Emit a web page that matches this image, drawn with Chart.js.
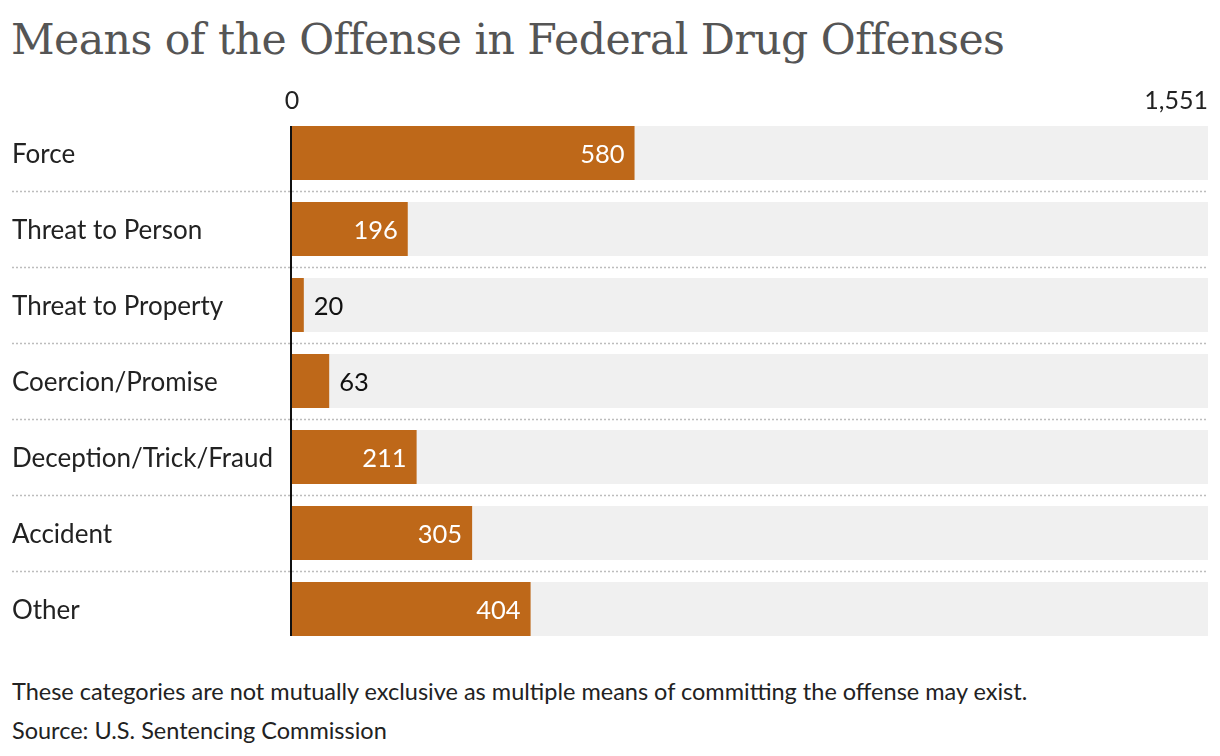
<!DOCTYPE html>
<html>
<head>
<meta charset="utf-8">
<script src="https://cdn.jsdelivr.net/npm/chart.js@4/dist/chart.umd.min.js"></script>
<style>
  html, body { margin: 0; padding: 0; background: #fff; }
  body { width: 1220px; height: 756px; position: relative; overflow: hidden; }
  #title { position: absolute; left: 11px; top: 14px; font-family: "DejaVu Serif", serif; font-size: 42.6px; color: #555; white-space: nowrap; letter-spacing: -0.55px; }
  .foot { position: absolute; left: 12px; font-family: Lato, sans-serif; font-size: 23.5px; color: #222; white-space: nowrap; }
  #wrap { position: absolute; left: 0; top: 0; width: 1220px; height: 756px; }
</style>
</head>
<body>
<div id="title">Means of the Offense in Federal Drug Offenses</div>
<div class="foot" style="top:677px">These categories are not mutually exclusive as multiple means of committing the offense may exist.</div>
<div class="foot" style="top:716px">Source: U.S. Sentencing Commission</div>
<div id="wrap"><canvas id="c"></canvas></div>
<script>
const categories = ["Force", "Threat to Person", "Threat to Property", "Coercion/Promise", "Deception/Trick/Fraud", "Accident", "Other"];
const values = [580, 196, 20, 63, 211, 305, 404];
const axisMax = 1551;
const xTickValues = [0, 1551];
const xTickLabels = ["0", "1,551"];
const trackValues = [1551, 1551, 1551, 1551, 1551, 1551, 1551];

const BAR_COLOR = "#be6819";
const TRACK_COLOR = "#f0f0f0";

const decor = {
  id: "decor",
  beforeDatasetsDraw(chart) {
    const { ctx, scales: { x, y } } = chart;
    ctx.save();
    ctx.strokeStyle = "#bdbdbd";
    ctx.lineWidth = 1.5;
    ctx.setLineDash([2, 2]);
    for (let i = 0; i < categories.length - 1; i++) {
      const py = Math.round((y.getPixelForValue(i) + y.getPixelForValue(i + 1)) / 2) + 0.5;
      ctx.beginPath();
      ctx.moveTo(12, py);
      ctx.lineTo(x.getPixelForValue(axisMax), py);
      ctx.stroke();
    }
    ctx.restore();
  },
  afterDatasetsDraw(chart) {
    const { ctx, scales: { x, y } } = chart;
    const meta = chart.getDatasetMeta(0);
    ctx.save();
    const first = meta.data[0], last = meta.data[meta.data.length - 1];
    ctx.strokeStyle = "#111";
    ctx.lineWidth = 2;
    ctx.beginPath();
    const x0 = x.getPixelForValue(0) - 1;
    ctx.moveTo(x0, first.y - first.height / 2);
    ctx.lineTo(x0, last.y + last.height / 2);
    ctx.stroke();
    ctx.font = "25.5px Lato, sans-serif";
    ctx.textBaseline = "middle";
    meta.data.forEach((bar, i) => {
      const w = bar.x - bar.base;
      const txt = String(values[i]);
      if (w > 70) {
        ctx.fillStyle = "#fff";
        ctx.textAlign = "right";
        ctx.fillText(txt, bar.x - 10, bar.y + 2);
      } else {
        ctx.fillStyle = "#111";
        ctx.textAlign = "left";
        ctx.fillText(txt, bar.x + 10, bar.y + 2);
      }
    });
    ctx.font = "25px Lato, sans-serif";
    ctx.fillStyle = "#222";
    xTickValues.forEach((v, i) => {
      ctx.textAlign = i === 0 ? "center" : "right";
      ctx.fillText(xTickLabels[i], x.getPixelForValue(v), 101);
    });
    ctx.restore();
  }
};

new Chart(document.getElementById("c"), {
  type: "bar",
  data: {
    labels: categories,
    datasets: [
      { data: values, backgroundColor: BAR_COLOR, order: 1, grouped: false,
        categoryPercentage: 1, barPercentage: 54 / 76, borderWidth: 0 },
      { data: trackValues, backgroundColor: TRACK_COLOR, order: 2, grouped: false,
        categoryPercentage: 1, barPercentage: 54 / 76, borderWidth: 0 }
    ]
  },
  options: {
    indexAxis: "y",
    responsive: true,
    maintainAspectRatio: false,
    animation: false,
    layout: { padding: { left: 12, right: 12, top: 115, bottom: 109 } },
    plugins: { legend: { display: false }, tooltip: { enabled: false }, title: { display: false } },
    scales: {
      x: { display: false, min: 0, max: axisMax },
      y: {
        grid: { display: false },
        border: { display: false },
        afterFit(s) { s.width = 280; },
        ticks: {
          crossAlign: "far",
          padding: 0,
          labelOffset: 2,
          color: "#222",
          font: { family: "Lato, sans-serif", size: 26 }
        }
      }
    }
  },
  plugins: [decor]
});
</script>
</body>
</html>
